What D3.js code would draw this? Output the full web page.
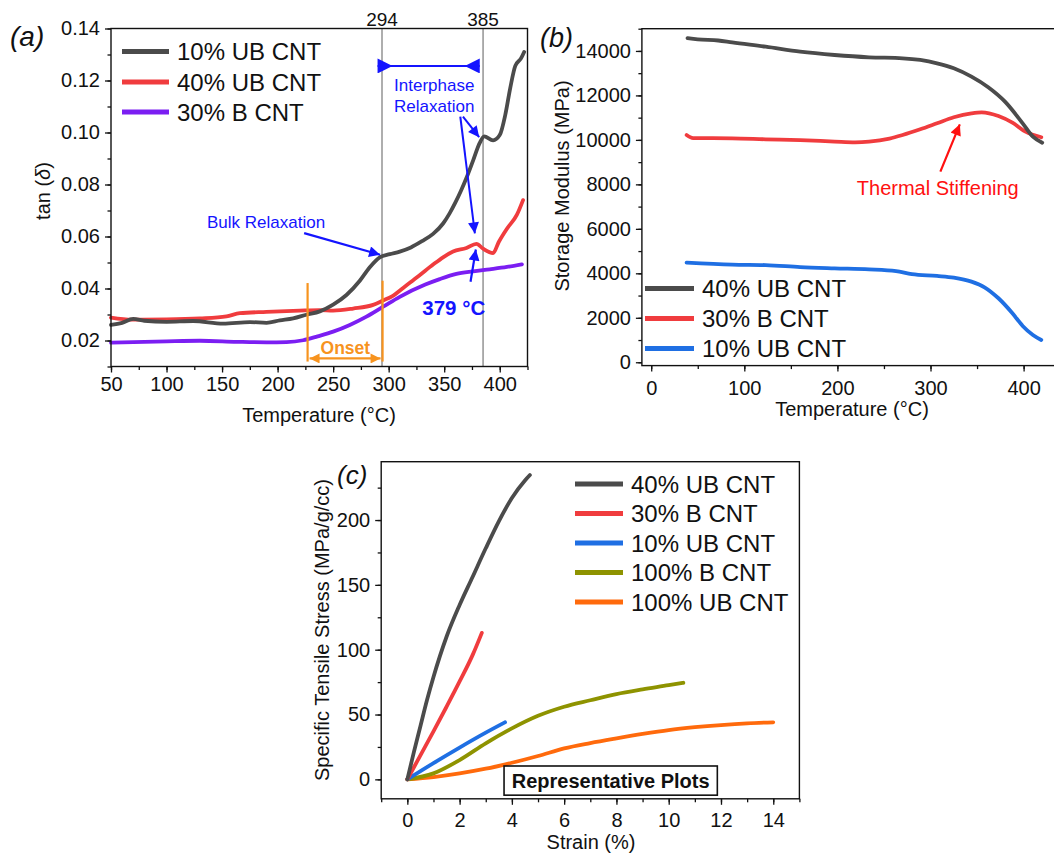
<!DOCTYPE html>
<html>
<head>
<meta charset="utf-8">
<script src="https://cdn.jsdelivr.net/npm/d3@7"></script>
<style>
  body { margin: 0; background: #fff; }
  svg { display: block; font-family: "Liberation Sans", Arial, sans-serif; }
</style>
</head>
<body>
<svg id="fig" width="1054" height="854"></svg>
<script>
// ---- panel (a): tan delta vs temperature ----
const tan10UB = [[50,0.0260],[60,0.0268],[70,0.0283],[80,0.0276],[100,0.0272],[124,0.0275],[151,0.0265],[175,0.0271],[190,0.0268],[202,0.0277],[214,0.0285],[226,0.0299],[238,0.0312],[250,0.0338],[262,0.0375],[274,0.0430],[283,0.0482],[292,0.0520],[301,0.0532],[310,0.0542],[320,0.0558],[330,0.0582],[340,0.0610],[349,0.0650],[355,0.0690],[360,0.0730],[365,0.0775],[370,0.0825],[376,0.0892],[382,0.0960],[386,0.0985],[394,0.0970],[400,0.0990],[405,0.1068],[409.5,0.1172],[414,0.1256],[419,0.1284],[422,0.1310]];
const tan40UB = [[50,0.0288],[69,0.0280],[100,0.0281],[130,0.0285],[154,0.0293],[166,0.0305],[190,0.0310],[220,0.0315],[238,0.0317],[250,0.0315],[268,0.0323],[286,0.0337],[295,0.0354],[303,0.0370],[315,0.0409],[327,0.0448],[340,0.0492],[349,0.0520],[358,0.0542],[370,0.0556],[379,0.0572],[385,0.0553],[394,0.0536],[399,0.0578],[406.5,0.0630],[415.5,0.0684],[421,0.0740]];
const tan30B = [[50,0.0192],[100,0.0197],[130,0.0199],[163,0.0195],[190,0.0193],[208,0.0194],[223,0.0201],[236,0.0216],[250,0.0234],[265,0.0260],[280,0.0292],[295,0.0330],[310,0.0368],[333,0.0415],[346,0.0436],[361,0.0456],[376,0.0466],[391,0.0474],[406.5,0.0483],[420,0.0493]];
const tanNames = ["10% UB CNT", "40% UB CNT", "30% B CNT"];
const tanXTicks = [50, 100, 150, 200, 250, 300, 350, 400];
const tanYTicks = [0.02, 0.04, 0.06, 0.08, 0.10, 0.12, 0.14];
const markTemps = [294, 385];
const onsetTemps = [227, 294.5];

// ---- panel (b): storage modulus ----
const mod40UB = [[39,14580],[50,14520],[72,14470],[87,14380],[123,14190],[160,13966],[197,13817],[234,13714],[270,13669],[289,13593],[307,13444],[325,13219],[344,12842],[362,12365],[380,11718],[399,10746],[410,10144],[420,9874]];
const mod30B = [[38,10220],[45,10080],[87,10072],[123,10027],[160,9990],[197,9925],[219,9890],[234,9920],[256,10060],[270,10220],[289,10477],[307,10746],[325,11016],[344,11196],[355,11241],[373,11075],[388,10774],[402,10369],[419,10117]];
const mod10UB = [[38,4478],[87,4390],[123,4370],[160,4280],[197,4226],[234,4181],[263,4100],[280,3960],[307,3880],[325,3805],[344,3625],[358,3372],[373,2878],[388,2203],[399,1632],[410,1227],[419,1003]];
const modNames = ["40% UB CNT", "30% B CNT", "10% UB CNT"];
const modXTicks = [0, 100, 200, 300, 400];
const modYTicks = [0, 2000, 4000, 6000, 8000, 10000, 12000, 14000];

// ---- panel (c): tensile ----
const ts40UB = [[0,0],[0.25,21],[0.5,41],[0.75,61],[1,79],[1.5,110],[2,134.5],[2.5,156.3],[3,178.2],[3.5,199],[4,217],[4.5,230.5],[4.69,234.7]];
const ts30B = [[0,0],[0.5,18.5],[1,37],[1.5,56],[2,75.5],[2.5,96],[2.85,113]];
const ts10UB = [[0,0],[1,12.5],[2,24.5],[3,36],[3.74,44]];
const ts100B = [[0,0],[1,4.6],[2,14.9],[3,27.8],[4,39.3],[5,49],[6,56],[7,61],[8,65.8],[9,69.4],[10,72.6],[10.56,74.5]];
const ts100UB = [[0,0],[1,1.8],[2,4.6],[3,8.2],[4,12.8],[5,18],[6,23.9],[7,28],[8,31.6],[9,35],[10,38],[11,40.2],[12,41.9],[13,43.2],[14,44]];
const tsNames = ["40% UB CNT", "30% B CNT", "10% UB CNT", "100% B CNT", "100% UB CNT"];
const tsXTicks = [0, 2, 4, 6, 8, 10, 12, 14];
const tsYTicks = [0, 50, 100, 150, 200];

const GRAY = "#4b4b4b", RED = "#f03c3e", PURPLE = "#7b1ef2", BLUE = "#1f6fe3",
      OLIVE = "#8e9300", ORANGE = "#ff6a0c", ANNO = "#1414ff", ONSET = "#f7931e";

const svg = d3.select("#fig");
const defs = svg.append("defs");

function marker(id, color, len, wid, path) {
  defs.append("marker")
    .attr("id", id)
    .attr("viewBox", "0 0 10 10")
    .attr("refX", 10).attr("refY", 5)
    .attr("markerWidth", len).attr("markerHeight", wid)
    .attr("markerUnits", "userSpaceOnUse")
    .attr("orient", "auto-start-reverse")
    .append("path").attr("d", path || "M0,0L10,5L0,10z").attr("fill", color);
}
marker("arrBlue", ANNO, 16, 11);
marker("arrRed", "#ff1010", 16, 11);
marker("arrOrange", ONSET, 12, 10);
marker("triIn", ANNO, 17, 15, "M10,0L0,5L10,10z");

function range(a, b, s) { return d3.range(a, b + s / 2, s); }

function drawAxes(x, y, xMajor, xMinor, yMajor, yMinor, yFmt, xPad) {
  const g = svg.append("g");
  const [x0, x1] = x.range();
  const [y0, y1] = y.range();
  const style = sel => {
    sel.select(".domain").remove();
    sel.attr("font-family", null).attr("font-size", null);
    sel.selectAll("line").attr("stroke", "#111").attr("stroke-width", 1.3);
    sel.selectAll("text").attr("font-size", 20).attr("fill", "#111");
  };
  g.append("g").attr("transform", `translate(0,${y0})`)
    .call(d3.axisBottom(x).tickValues(xMinor).tickSize(3.5).tickFormat(""))
    .call(style);
  g.append("g").attr("transform", `translate(0,${y0})`)
    .call(d3.axisBottom(x).tickValues(xMajor).tickSize(6).tickPadding(xPad).tickFormat(d3.format("d")))
    .call(style);
  g.append("g").attr("transform", `translate(${x0},0)`)
    .call(d3.axisLeft(y).tickValues(yMinor).tickSize(3.5).tickFormat(""))
    .call(style);
  g.append("g").attr("transform", `translate(${x0},0)`)
    .call(d3.axisLeft(y).tickValues(yMajor).tickSize(6).tickPadding(5).tickFormat(yFmt))
    .call(style);
  g.append("rect")
    .attr("x", x0).attr("y", y1)
    .attr("width", x1 - x0).attr("height", y0 - y1)
    .attr("fill", "none").attr("stroke", "#111").attr("stroke-width", 1.4);
  return g;
}

function curve(x, y, data, color, w) {
  svg.append("path")
    .datum(data)
    .attr("fill", "none")
    .attr("stroke", color)
    .attr("stroke-width", w || 3.8)
    .attr("stroke-linecap", "round")
    .attr("stroke-linejoin", "round")
    .attr("d", d3.line().x(d => x(d[0])).y(d => y(d[1])).curve(d3.curveMonotoneX));
}

function legend(names, colors, lx0, lx1, rows) {
  names.forEach((n, i) => {
    svg.append("line")
      .attr("x1", lx0).attr("x2", lx1)
      .attr("y1", rows[i]).attr("y2", rows[i])
      .attr("stroke", colors[i]).attr("stroke-width", 5);
    svg.append("text")
      .attr("x", lx1 + 8).attr("y", rows[i]).attr("dy", "0.36em")
      .attr("font-size", 24).attr("fill", "#111")
      .text(n);
  });
}

function text(x, y, str, size, color, opts) {
  const t = svg.append("text")
    .attr("x", x).attr("y", y).attr("dy", "0.36em")
    .attr("font-size", size).attr("fill", color)
    .attr("text-anchor", (opts && opts.anchor) || "middle")
    .text(str);
  if (opts && opts.bold) t.attr("font-weight", "bold");
  if (opts && opts.italic) t.attr("font-style", "italic");
  if (opts && opts.rotate) t.attr("transform", `rotate(-90,${x},${y})`);
  return t;
}

function arrow(x, y, a, b, color, id, w) {
  svg.append("line")
    .attr("x1", x(a[0])).attr("y1", y(a[1]))
    .attr("x2", x(b[0])).attr("y2", y(b[1]))
    .attr("stroke", color).attr("stroke-width", w || 2)
    .attr("marker-end", `url(#${id})`);
}

// ===== panel (a) =====
const xA = d3.scaleLinear().domain([50, 425]).range([111, 527.5]);
const yA = d3.scaleLinear().domain([0.01, 0.14]).range([366.5, 28.5]);

markTemps.forEach(t => {
  svg.append("line")
    .attr("x1", xA(t)).attr("x2", xA(t))
    .attr("y1", yA(0.14)).attr("y2", yA(0.01))
    .attr("stroke", "#9a9a9a").attr("stroke-width", 1.6);
  text(xA(t), 19.5, String(t), 19, "#111");
});

curve(xA, yA, tan40UB, RED);
curve(xA, yA, tan30B, PURPLE);
curve(xA, yA, tan10UB, GRAY);

drawAxes(xA, yA, tanXTicks, range(50, 425, 25), tanYTicks, range(0.01, 0.14, 0.01), d3.format(".2f"), 4.5);

legend(tanNames, [GRAY, RED, PURPLE], 122, 169, [51.5, 82, 112]);

// onset bracket
onsetTemps.forEach((t, i) => {
  svg.append("line")
    .attr("x1", xA(t)).attr("x2", xA(t))
    .attr("y1", yA(i === 0 ? 0.0421 : 0.043)).attr("y2", yA(0.0119))
    .attr("stroke", ONSET).attr("stroke-width", 2.2);
});
svg.append("line")
  .attr("x1", xA(onsetTemps[0]) + 2).attr("x2", xA(onsetTemps[1]) - 2)
  .attr("y1", yA(0.0131)).attr("y2", yA(0.0131))
  .attr("stroke", ONSET).attr("stroke-width", 2.2)
  .attr("marker-start", "url(#arrOrange)").attr("marker-end", "url(#arrOrange)");
text(xA(261), yA(0.0174), "Onset", 17.5, ONSET, { bold: true });

// interphase bar
svg.append("line")
  .attr("x1", xA(290)).attr("x2", xA(382))
  .attr("y1", yA(0.1256)).attr("y2", yA(0.1256))
  .attr("stroke", ANNO).attr("stroke-width", 2)
  .attr("marker-start", "url(#triIn)").attr("marker-end", "url(#triIn)");
text(xA(341), yA(0.1185), "Interphase", 17, ANNO);
text(xA(341), yA(0.1101), "Relaxation", 17, ANNO);
arrow(xA, yA, [366.9, 0.1061], [381.5, 0.0982], ANNO, "arrBlue");
arrow(xA, yA, [364.5, 0.1061], [377.6, 0.0612], ANNO, "arrBlue");

text(xA(189.6), yA(0.0656), "Bulk Relaxation", 17, ANNO);
arrow(xA, yA, [223.9, 0.0613], [292.3, 0.0530], ANNO, "arrBlue", 2.2);

text(xA(358.6), yA(0.0325), "379 °C", 20.5, ANNO, { bold: true });
arrow(xA, yA, [373.7, 0.0426], [378.5, 0.0550], ANNO, "arrBlue", 2.2);

text(10, 36, "(a)", 28, "#111", { anchor: "start", italic: true });
svg.append("text")
  .attr("x", 42.5).attr("y", 191).attr("dy", "0.36em")
  .attr("text-anchor", "middle").attr("font-size", 20).attr("fill", "#111")
  .attr("transform", "rotate(-90,42.5,191)")
  .call(t => { t.append("tspan").text("tan ("); t.append("tspan").attr("font-style", "italic").text("δ"); t.append("tspan").text(")"); });
text(319, 414.5, "Temperature (°C)", 20, "#111");

// ===== panel (b) =====
const xB = d3.scaleLinear().domain([-10, 445]).range([641.9, 1065.5]);
const yB = d3.scaleLinear().domain([-150, 15000]).range([365.6, 28.7]);

curve(xB, yB, mod30B, RED);
curve(xB, yB, mod40UB, GRAY);
curve(xB, yB, mod10UB, BLUE);

drawAxes(xB, yB, modXTicks, range(0, 440, 50), modYTicks, range(0, 15000, 1000), d3.format("d"), 9.5);

legend(modNames, [GRAY, RED, BLUE], 645, 694, [288.5, 318.5, 348.5]);

text(xB(307.8), yB(7851), "Thermal Stiffening", 20, "#ff1010");
arrow(xB, yB, [310.6, 8570], [331.5, 10700], "#ff1010", "arrRed", 2.2);

text(540, 37, "(b)", 27, "#111", { anchor: "start", italic: true });
text(561.5, 186, "Storage Modulus (MPa)", 20, "#111", { rotate: true });
text(852, 408.3, "Temperature (°C)", 20, "#111");

// ===== panel (c) =====
const xC = d3.scaleLinear().domain([-1, 15]).range([381.2, 799.4]);
const yC = d3.scaleLinear().domain([-15, 245]).range([798.8, 461.7]);

curve(xC, yC, ts100UB, ORANGE);
curve(xC, yC, ts100B, OLIVE);
curve(xC, yC, ts10UB, BLUE);
curve(xC, yC, ts30B, RED);
curve(xC, yC, ts40UB, GRAY);

drawAxes(xC, yC, tsXTicks, range(-1, 15, 1), tsYTicks, range(-0, 225, 25), d3.format("d"), 7.7);

legend(tsNames, [GRAY, RED, BLUE, OLIVE, ORANGE], 575, 623, [484, 513.5, 543, 572.5, 602]);

// label box
const boxX = [3.7, 11.86], boxY = [10.3, -12.2];
svg.append("rect")
  .attr("x", xC(boxX[0])).attr("y", yC(boxY[0]))
  .attr("width", xC(boxX[1]) - xC(boxX[0])).attr("height", yC(boxY[1]) - yC(boxY[0]))
  .attr("fill", "#fff").attr("stroke", "#111").attr("stroke-width", 1.6);
text((xC(boxX[0]) + xC(boxX[1])) / 2, (yC(boxY[0]) + yC(boxY[1])) / 2, "Representative Plots", 20, "#111", { bold: true });

text(337, 475, "(c)", 26, "#111", { anchor: "start", italic: true });
text(322, 630, "Specific Tensile Stress (MPa/g/cc)", 20, "#111", { rotate: true });
text(591, 841.7, "Strain (%)", 20, "#111");
</script>
</body>
</html>
